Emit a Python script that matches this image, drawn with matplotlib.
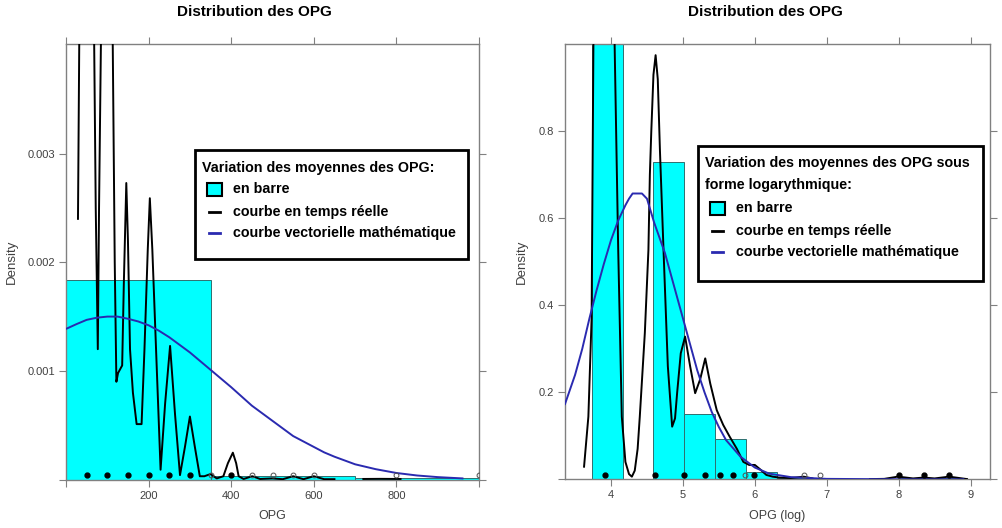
import numpy as np
import matplotlib.pyplot as plt
from matplotlib.patches import Rectangle
from matplotlib.lines import Line2D

plt.rcParams['font.family'] = ['Liberation Sans', 'DejaVu Sans']

# ---- left panel : OPG ----
hist_l_edges = [0, 350, 700, 1050]
hist_l_dens = [0.00184, 0.00003, 0.000015]

blue_l_x = [2, 25, 50, 75, 100, 125, 150, 175, 200, 225, 250, 275, 300, 325,
            350, 375, 400, 425, 450, 475, 500, 525, 550, 575, 600, 625, 650,
            700, 750, 800, 850, 900, 960]
blue_l_y = [0.00139, 0.00143, 0.00147, 0.00149, 0.00150, 0.00150, 0.00148,
            0.001455, 0.00142, 0.00137, 0.00131, 0.00124, 0.00117, 0.00109,
            0.00101, 0.00093, 0.00085, 0.000765, 0.00068, 0.00061, 0.00054,
            0.00047, 0.00040, 0.00035, 0.00030, 0.00025, 0.00021, 0.00014,
            0.000095, 0.00006, 0.000037, 0.000022, 0.00001]

black_l_x = [29, 33, 40, 50, 60, 67, 72, 77, 80, 86, 100, 112, 118, 122, 126,
             136, 140, 146, 150, 155, 162, 171, 183, 190, 198, 203, 209, 220,
             229, 240, 252, 264, 276, 288, 300, 312, 324, 335, 350, 365, 381,
             392, 404, 412, 418, 430, 451, 470, 500, 525, 550, 575, 600, 625, 650]
black_l_y = [0.0024, 0.0045, 0.008, 0.010, 0.008, 0.0045, 0.0025, 0.0012,
             0.0025, 0.0045, 0.009, 0.0045, 0.0020, 0.0009, 0.00098, 0.00105,
             0.0018, 0.00273, 0.0022, 0.0012, 0.0008, 0.00051, 0.00051, 0.0012,
             0.00212, 0.00259, 0.00212, 0.0010, 0.00009, 0.0007, 0.00123,
             0.0006, 0.00004, 0.0003, 0.00058, 0.0003, 0.00003, 0.00003,
             0.00005, 0.00001, 0.00003, 0.00015, 0.000247, 0.00015, 0.00003,
             0.000005, 0.00003, 0.000005, 0.00001, 0.000003, 0.00003,
             0.000003, 0.00003, 0.000003, 0.000003]
black_l2_x = [720, 760, 810]
black_l2_y = [0.000005, 0.000006, 0.000005]

rug_l_full = [50, 100, 150, 200, 250, 300, 400]
rug_l_open = [350, 450, 500, 550, 600, 800, 1000]

# ---- right panel : log(OPG) ----
hist_r_edges = [3.73, 4.16, 4.59, 5.02, 5.45, 5.88, 6.31, 6.74, 7.17, 7.60,
                8.03, 8.46, 8.89]
hist_r_dens = [1.34, 0.0, 0.73, 0.15, 0.093, 0.016, 0.004, 0.002, 0.0, 0.0,
               0.002, 0.002]

blue_r_x = [3.36, 3.5, 3.6, 3.7, 3.8, 3.9, 4.0, 4.1, 4.2, 4.25, 4.3, 4.43,
            4.5, 4.6, 4.75, 4.9, 5.0, 5.1, 5.2, 5.3, 5.4, 5.5, 5.6, 5.8, 6.0,
            6.2, 6.5, 7.0, 8.0, 8.9]
blue_r_y = [0.173, 0.24, 0.30, 0.37, 0.435, 0.495, 0.55, 0.595, 0.63, 0.645,
            0.657, 0.657, 0.645, 0.59, 0.52, 0.43, 0.37, 0.31, 0.25, 0.20,
            0.155, 0.12, 0.09, 0.052, 0.027, 0.013, 0.005, 0.001, 0.0, 0.0]

black_r_x = [3.625, 3.685, 3.73, 3.755, 3.8, 3.92, 4.0, 4.05, 4.10, 4.15,
             4.2, 4.25, 4.29, 4.33, 4.37, 4.40, 4.47, 4.52, 4.54, 4.56, 4.59,
             4.62, 4.65, 4.68, 4.73, 4.79, 4.85, 4.89, 4.92, 4.97, 5.03, 5.1,
             5.17, 5.24, 5.31, 5.38, 5.47, 5.56, 5.65, 5.75, 5.84, 5.92, 6.0,
             6.08, 6.16, 6.25, 6.34, 6.5, 6.68, 6.8]
black_r_y = [0.029, 0.144, 0.37, 1.0, 1.5, 1.8, 1.5, 1.0, 0.527, 0.144,
             0.04, 0.012, 0.006, 0.02, 0.07, 0.144, 0.336, 0.527, 0.70, 0.80,
             0.93, 0.975, 0.92, 0.757, 0.527, 0.26, 0.121, 0.14, 0.2, 0.29,
             0.328, 0.26, 0.198, 0.23, 0.278, 0.22, 0.159, 0.125, 0.098, 0.07,
             0.040, 0.033, 0.033, 0.022, 0.01, 0.006, 0.004, 0.003, 0.006,
             0.002]
black_r2_x = [7.6, 7.8, 7.95, 8.0, 8.05, 8.2, 8.35, 8.5, 8.65, 8.7, 8.75, 8.95]
black_r2_y = [0.0005, 0.001, 0.005, 0.007, 0.005, 0.002, 0.004, 0.002,
              0.005, 0.007, 0.005, 0.0005]

rug_r_full = [3.91, 4.61, 5.01, 5.30, 5.52, 5.70, 5.99, 8.0, 8.35, 8.7]
rug_r_open = [5.86, 6.68, 6.91]

title = "Distribution des OPG"
legend_items = ["en barre", "courbe en temps réelle",
                "courbe vectorielle mathématique"]

CYAN = '#00ffff'
BLUE = '#2a2ab0'
FRAME = '#808080'
TXT = '#404040'

W, H = 1003, 528
fig = plt.figure(figsize=(W / 100, H / 100), dpi=100)


def px_rect(x0, y0, x1, y1):
    return [x0 / W, 1 - y1 / H, (x1 - x0) / W, (y1 - y0) / H]


def ftext(x, y, s, **kw):
    # text placed in figure pixels, y measured from the top
    return fig.text(x / W, 1 - y / H, s, **kw)


def style_axes(ax, xticks, xlabels, yticks, ylabels):
    for s in ax.spines.values():
        s.set_color(FRAME)
        s.set_linewidth(1)
    ax.set_xticks(xticks)
    ax.set_xticklabels(xlabels)
    ax.set_yticks(yticks)
    ax.set_yticklabels(ylabels)
    ax.tick_params(direction='out', length=5, color=FRAME, labelcolor=TXT,
                   labelsize=8, top=True, right=True, pad=3)


def draw_panel(ax, edges, dens, bx, by, kx, ky, k2x, k2y, rfull, ropen, rug_y):
    ax.bar(edges[:-1], dens, width=np.diff(edges), align='edge', color=CYAN,
           edgecolor='#2f6f6f', linewidth=0.7, zorder=1)
    ax.plot(kx, ky, color='black', lw=1.4, zorder=3)
    ax.plot(k2x, k2y, color='black', lw=1.4, zorder=3)
    ax.plot(bx, by, color=BLUE, lw=1.4, zorder=4)
    ax.plot(rfull, [rug_y] * len(rfull), 'o', color='black', ms=3.5, zorder=5)
    ax.plot(ropen, [rug_y] * len(ropen), 'o', mfc='none', mec='#505050',
            ms=3.5, mew=0.7, zorder=5)


def draw_key(x0, y0, x1, y1, title_lines, title_y, item_y):
    fig.add_artist(Rectangle((x0 / W, 1 - y1 / H), (x1 - x0) / W, (y1 - y0) / H,
                             transform=fig.transFigure, facecolor='white',
                             edgecolor='black', linewidth=2, zorder=10))
    kw = dict(fontsize=10.3, fontweight='bold', va='center', ha='left', zorder=11)
    for t, ty in zip(title_lines, title_y):
        ftext(x0 + 7, ty, t, **kw)
    hx = x0 + 13
    # filled square
    fig.add_artist(Rectangle(((hx - 1) / W, 1 - (item_y[0] + 7) / H), 15 / W, 13 / H,
                             transform=fig.transFigure, facecolor=CYAN,
                             edgecolor='black', linewidth=1.5, zorder=11))
    for col, yy in zip(['black', BLUE], item_y[1:]):
        fig.add_artist(Line2D([(hx + 1) / W, (hx + 12) / W],
                              [1 - yy / H, 1 - yy / H], color=col, lw=2,
                              transform=fig.transFigure, zorder=11))
    for lab, yy in zip(legend_items, item_y):
        ftext(hx + 25, yy, lab, **kw)


# left
ax1 = fig.add_axes(px_rect(66, 44, 479, 479.5))
draw_panel(ax1, hist_l_edges, hist_l_dens, blue_l_x, blue_l_y,
           black_l_x, black_l_y, black_l2_x, black_l2_y,
           rug_l_full, rug_l_open, 0.00004)
ax1.set_xlim(0, 1000)
ax1.set_ylim(0, 0.00401)
style_axes(ax1, [0, 200, 400, 600, 800, 1000], ['', '200', '400', '600', '800', ''],
           [0, 0.001, 0.002, 0.003], ['', '0.001', '0.002', '0.003'])
ax1.set_xlabel("OPG", fontsize=9, color=TXT, labelpad=7)

# right
ax2 = fig.add_axes(px_rect(565, 44.3, 990, 479.3))
draw_panel(ax2, hist_r_edges, hist_r_dens, blue_r_x, blue_r_y,
           black_r_x, black_r_y, black_r2_x, black_r2_y,
           rug_r_full, rug_r_open, 0.01)
ax2.set_xlim(3.36, 9.27)
ax2.set_ylim(0, 1.0)
style_axes(ax2, [4, 5, 6, 7, 8, 9], ['4', '5', '6', '7', '8', '9'],
           [0, 0.2, 0.4, 0.6, 0.8], ['', '0.2', '0.4', '0.6', '0.8'])
ax2.set_xlabel("OPG (log)", fontsize=9, color=TXT, labelpad=7)

for cx in (254, 765):
    ftext(cx, 12, title, fontsize=11, fontweight='bold', ha='center', va='center')
for cx in (12, 522):
    ftext(cx, 262, "Density", fontsize=9.5, color=TXT, rotation=90,
          ha='center', va='center')

draw_key(195, 150, 468, 259, ["Variation des moyennes des OPG:"], [168],
         [189, 212, 233])
draw_key(698, 146, 983, 281,
         ["Variation des moyennes des OPG sous", "forme logarythmique:"],
         [163, 185], [208, 231, 252])

fig.savefig("out.png", dpi=100)
